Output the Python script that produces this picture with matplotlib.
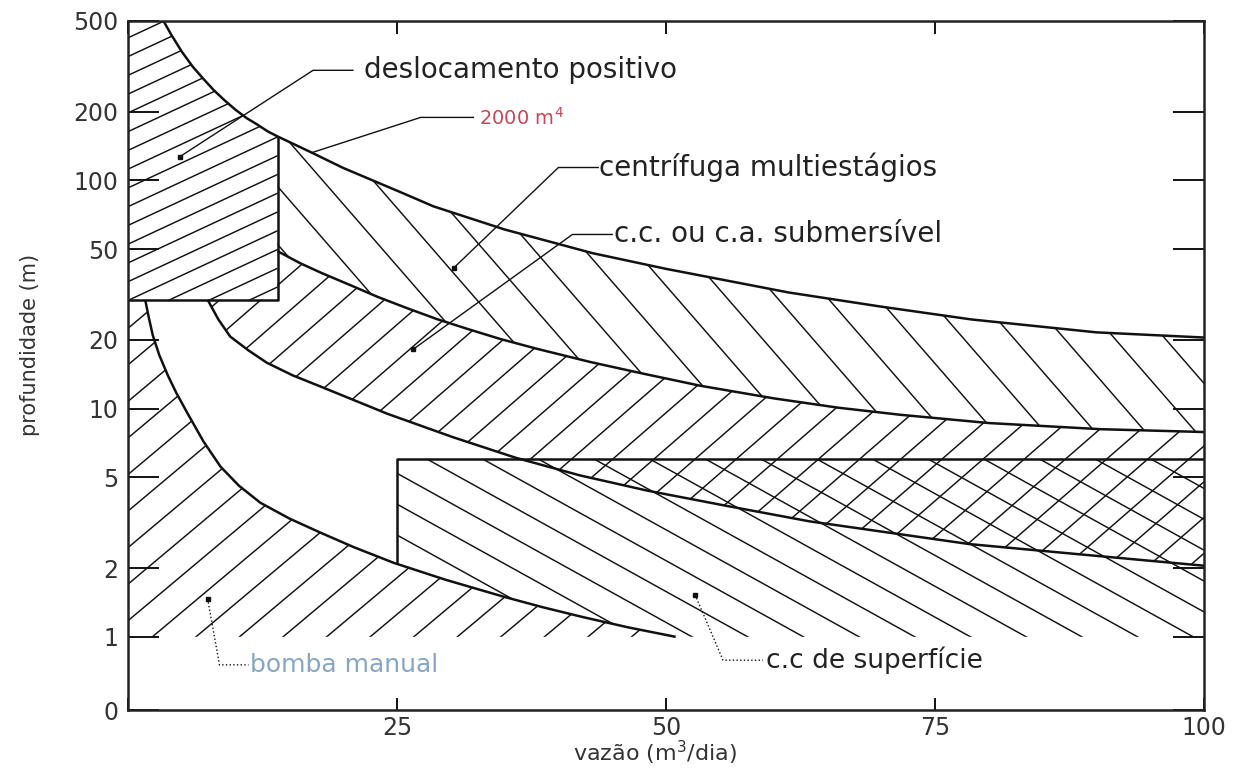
import numpy as np
import matplotlib
matplotlib.use('Agg')
import matplotlib.pyplot as plt
from matplotlib.patches import Polygon
from matplotlib.collections import LineCollection

# boundary curves (x = vazao m3/dia, y = profundidade m)
# upper edge ("2000 m4" line)
a_x = [3.3, 4, 5, 6, 7, 8, 9, 10, 11, 12, 13, 13.9, 17, 20, 25.3, 28.4, 35,
       43.2, 50, 61.4, 70, 78.4, 90, 100]
a_y = [500, 437, 367, 316, 279, 248, 224, 204, 188, 176, 164, 156, 133, 113.5,
       89, 77, 61, 48, 41, 32.3, 28, 24.6, 21.6, 20.5]

# centrifuga / submersivel edge
b_x = [13.9, 16, 18, 20.9, 23.2, 26, 28.7, 31.5, 34.6, 38, 43, 48, 53.2, 60,
       66, 71.8, 80, 90.4, 100]
b_y = [49.0, 43.4, 39.3, 34.4, 30.9, 27.5, 24.7, 22.4, 20.2, 18.3, 16.0, 14.2,
       12.6, 11.1, 10.1, 9.4, 8.65, 8.13, 7.9]

# lower edge of submersivel
c_x = [7.4, 8.4, 9.5, 11.2, 12.9, 15.3, 17.9, 21, 24.1, 30.2, 36, 42, 48.3,
       55.5, 63.3, 78.2, 88, 100]
c_y = [30, 24.6, 20.7, 18.0, 15.9, 14.0, 12.5, 10.9, 9.5, 7.5, 6.1, 5.1, 4.37,
       3.76, 3.21, 2.55, 2.31, 2.05]

# bomba manual edge
d_x = [1.6, 1.9, 2.3, 2.9, 3.7, 4.5, 5.5, 7, 8.6, 10.3, 12.3, 15, 17.9, 21,
       24.7, 29.5, 34.9, 38.5, 42.3, 46.5, 50.9]
d_y = [30, 25.5, 21, 17.2, 14.0, 11.7, 9.6, 7.2, 5.57, 4.6, 3.87, 3.3, 2.86,
       2.47, 2.11, 1.78, 1.5, 1.35, 1.22, 1.1, 1.0]

x_split = 13.9      # right edge of "deslocamento positivo" block
y_block = 30        # bottom of that block
rect_x0 = 25        # "c.c de superficie" block
rect_top = 6
rect_bot = 2.08
y_floor = 1

y_ticks = [1, 2, 5, 10, 20, 50, 100, 200, 500]
x_ticks = [0, 25, 50, 75, 100]

W_PX, H_PX = 1245, 770
fig = plt.figure(figsize=(W_PX / 100, H_PX / 100), dpi=100)
ax_pos = [128 / W_PX, 60 / H_PX, 1076 / W_PX, 689 / H_PX]
ax = fig.add_axes(ax_pos)
ax.set_yscale('log')
ax.set_xlim(0, 100)
y_bottom = 0.478
ax.set_ylim(y_bottom, 500)

ax_w = ax_pos[2] * W_PX
ax_h = ax_pos[3] * H_PX


def hatch(verts, angle, spacing, lw=1.05):
    patch = Polygon(verts, closed=True, facecolor='none', edgecolor='none')
    ax.add_patch(patch)
    th = np.radians(angle)
    d = np.array([np.cos(th), np.sin(th)])
    n = np.array([-np.sin(th), np.cos(th)])
    span = np.hypot(ax_w, ax_h)
    c0 = np.array([ax_w / 2, ax_h / 2])
    segs = []
    for o in np.arange(-span, span, spacing):
        c = c0 + o * n
        p1 = (c - span * d) / [ax_w, ax_h]
        p2 = (c + span * d) / [ax_w, ax_h]
        segs.append([p1, p2])
    lc = LineCollection(segs, transform=ax.transAxes, colors='#111111',
                        linewidths=lw)
    lc.set_clip_path(patch)
    ax.add_collection(lc, autolim=False)


A = list(zip(a_x, a_y))
B = list(zip(b_x, b_y))
C = list(zip(c_x, c_y))
D = list(zip(d_x, d_y))

desl = [(0, 500)] + [p for p in A if p[0] <= x_split] + [(x_split, y_block), (0, y_block)]
centr = [p for p in A if p[0] >= x_split] + B[::-1]
subm = B + C[::-1] + [(x_split, y_block)]
bomba = [(0, y_block)] + D + [(0, y_floor)]
d_low = [p for p in D if p[0] > rect_x0]
superf = [(rect_x0, rect_top), (100, rect_top), (100, y_floor)] + d_low[::-1] + [(rect_x0, rect_bot)]

hatch(desl, 25, 17)
hatch(centr, -49, 38)
hatch(subm, 41, 27)
hatch(bomba, 40, 28)
hatch(superf, -29, 27)

lk = dict(color='#111111', lw=1.8, solid_capstyle='butt', solid_joinstyle='round')
ax.plot(a_x, a_y, **lk)
ax.plot(b_x, b_y, **lk)
ax.plot(c_x, c_y, **lk)
ax.plot(d_x, d_y, **lk)
ax.plot([x_split, x_split, 0], [a_y[a_x.index(x_split)], y_block, y_block], **lk)
ax.plot([rect_x0, rect_x0, 100], [rect_bot, rect_top, rect_top], **lk)

# labels with leader lines
tk = dict(fontsize=20, color='#222222', va='center', ha='left')
lead = dict(color='#111111', lw=1.0)


def label(text, dot, elbow, end, tx, ty, style='-', dot_on=True, **kw):
    ax.plot([dot[0], elbow[0], end], [dot[1], elbow[1], elbow[1]], ls=style, **lead)
    if dot_on:
        ax.plot(dot[0], dot[1], 's', ms=3, color='#111111')
    opts = dict(tk)
    opts.update(kw)
    ax.text(tx, ty, text, **opts)


label('deslocamento positivo', (4.8, 127), (17.2, 304), 20.9, 21.9, 304)
label('2000 m$^4$', (17.2, 133), (27.2, 189), 32.1, 32.6, 189, dot_on=False,
      fontsize=14, color='#cc4455')
label('centrífuga multiestágios', (30.3, 41.5), (40.0, 114), 43.7, 43.8, 114)
label('c.c. ou c.a. submersível', (26.5, 18.2), (41.3, 58), 45.0, 45.2, 58)
label('bomba manual', (7.4, 1.47), (8.5, 0.754), 11.2, 11.3, 0.754, style=':',
      fontsize=18, color='#86a6c4')
label('c.c de superfície', (52.7, 1.53), (55.3, 0.79), 59.0, 59.3, 0.79,
      style=':', fontsize=19)

# axes styling
ax.minorticks_off()
ax.set_yticks([y_bottom] + y_ticks)
ax.set_yticklabels(['0'] + [str(v) for v in y_ticks])
ax.set_xticks(x_ticks)
ax.set_xticklabels([''] + [str(v) for v in x_ticks[1:]])
ax.tick_params(axis='y', which='both', direction='in', left=True, right=True,
               length=22, width=1.3, labelsize=17, labelcolor='#333333', pad=7)
ax.tick_params(axis='x', which='both', direction='in', top=True, bottom=True,
               length=9, width=1.3, labelsize=17, labelcolor='#333333', pad=4)
for s in ax.spines.values():
    s.set_linewidth(1.8)
    s.set_color('#222222')

ax.set_xlabel('vazão (m$^3$/dia)', fontsize=16, color='#333333', va='center')
ax.xaxis.set_label_coords(0.49, -0.062)
ax.set_ylabel('profundidade (m)', fontsize=15, color='#333333', va='center')
ax.yaxis.set_label_coords(-0.091, 0.53)

fig.savefig('out.png', dpi=100)
